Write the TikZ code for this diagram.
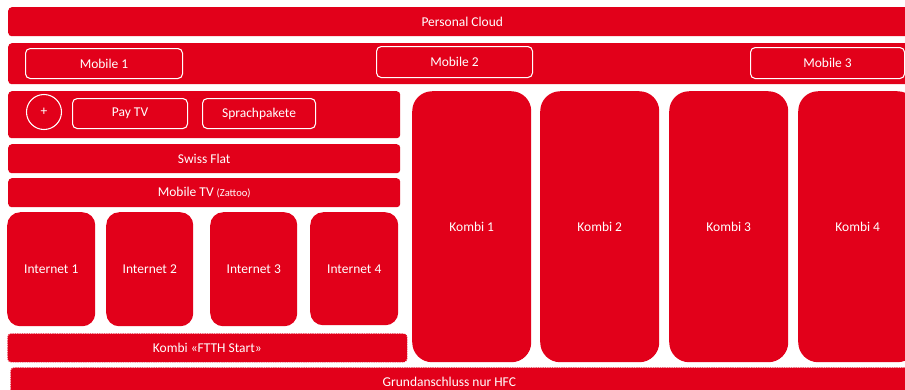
\documentclass[tikz,border=0pt]{standalone}
\usepackage{fontspec}
\setmainfont{Carlito}
\usetikzlibrary{positioning}
\definecolor{brandred}{RGB}{226,0,26}

\begin{document}
\begin{tikzpicture}[x=0.03cm, y=-0.03cm,
    wh/.style 2 args={minimum width=#1*0.03cm, minimum height=#2*0.03cm}]
    \tikzstyle{bar} = [fill=brandred, text=white, rounded corners=3pt, inner sep=0pt, anchor=north west, font=\fontsize{11.5}{13}\selectfont];
    \tikzstyle{tile} = [bar, rounded corners=11pt];
    \tikzstyle{kombi} = [bar, rounded corners=17pt];
    \tikzstyle{option} = [bar, draw=white, line width=0.9pt, rounded corners=4pt];
    \tikzstyle{dotbox} = [bar, draw=white, line width=0.6pt, dash pattern=on 1pt off 1pt];

    \useasboundingbox (0,0) rectangle (905,389);
    \clip (0,0) rectangle (905,389);

    % top rows
    \node[bar, wh={908}{29}] (cloud) at (8,7) {Personal Cloud};
    \node[bar, wh={908}{41}] (mobile) at (8,43) {};
    \node[option, wh={157}{30}] (mob1) at (25,48) {Mobile 1};
    \node[option, wh={156}{31}] (mob2) at (376,46) {Mobile 2};
    \node[option, wh={154}{31}] (mob3) at (750,47) {Mobile 3};

    % TV options
    \node[bar, wh={392}{47}] (tv) at (8,91) {};
    \node[circle, draw=white, line width=0.9pt, text=white, minimum size=35*0.03cm, inner sep=0pt,
          font=\fontsize{11.5}{13}\selectfont] (plus) at (44,112) {+};
    \node[option, wh={115}{30}] (paytv) at (72,98) {Pay TV};
    \node[option, wh={113}{30}] (sprach) at (202,98) {Sprachpakete};

    \node[bar, wh={392}{29}] (swiss) at (8,144) {Swiss Flat};
    \node[bar, wh={392}{29}] (mobtv) at (8,178) {Mobile TV {\fontsize{9}{11}\selectfont(Zattoo)}};

    % internet tiles
    \node[tile, wh={88}{114}] (inet1) at (7,212) {Internet 1};
    \node[tile, wh={87}{114}] (inet2) at (106,212) {Internet 2};
    \node[tile, wh={87}{114}] (inet3) at (210,212) {Internet 3};
    \node[tile, wh={88}{113}] (inet4) at (310,212) {Internet 4};

    \node[dotbox, wh={400}{29}] (ftth) at (7,333) {Kombi «FTTH Start»};

    % kombi columns
    \node[kombi, wh={119}{271}] (kombi1) at (412,91) {Kombi 1};
    \node[kombi, wh={119}{271}] (kombi2) at (540,91) {Kombi 2};
    \node[kombi, wh={119}{271}] (kombi3) at (669,91) {Kombi 3};
    \node[kombi, wh={119}{271}] (kombi4) at (798,91) {Kombi 4};

    \node[dotbox, wh={906}{30},
          label={[text=white, xshift=-14*0.03cm, font=\fontsize{11.5}{13}\selectfont]center:Grundanschluss nur HFC}]
          (hfc) at (10,367) {};
\end{tikzpicture}
\end{document}
